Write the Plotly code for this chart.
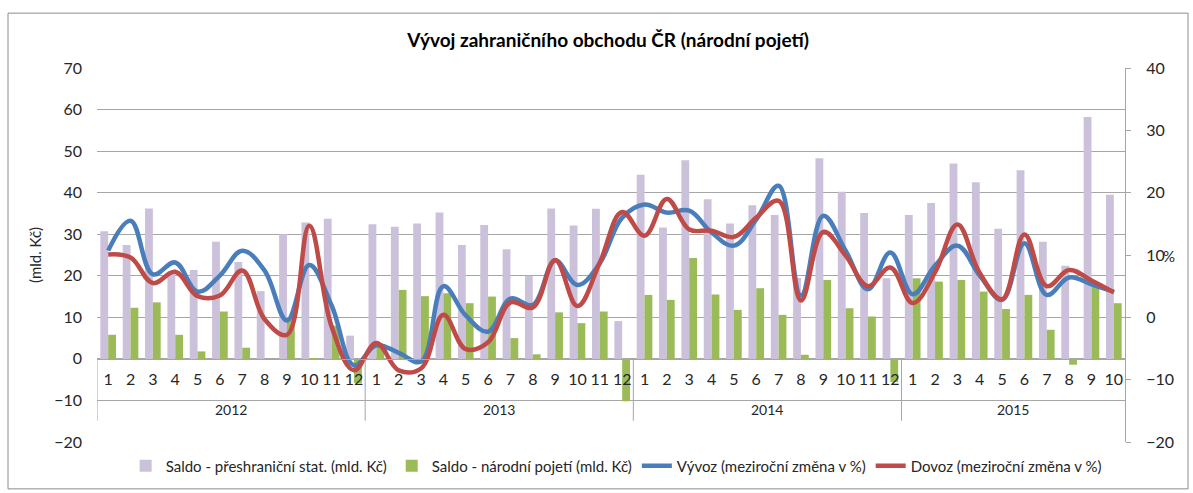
import plotly.graph_objects as go

years = ["2012", "2013", "2014", "2015"]
months_per_year = [12, 12, 12, 10]

saldo_preshranicni = [
    30.7, 27.4, 36.2, 21.0, 21.4, 28.2, 23.3, 16.3, 30.0, 32.8, 33.7, 5.6,
    32.4, 31.8, 32.6, 35.2, 27.4, 32.2, 26.4, 20.0, 36.2, 32.1, 36.1, 9.1,
    44.3, 31.6, 47.8, 38.4, 32.6, 37.0, 34.6, 19.5, 48.3, 40.2, 35.1, 19.4,
    34.6, 37.5, 47.0, 42.5, 31.3, 45.4, 28.2, 22.4, 58.2, 39.5,
]
saldo_narodni = [
    5.8, 12.3, 13.6, 5.8, 1.8, 11.4, 2.7, 0.0, 9.8, -0.2, 8.0, -5.8,
    3.5, 16.6, 15.1, 15.8, 13.4, 15.0, 5.0, 1.1, 11.2, 8.6, 11.4, -10.2,
    15.4, 14.2, 24.3, 15.5, 11.8, 17.0, 10.6, 1.0, 19.0, 12.2, 10.2, -5.6,
    19.4, 18.6, 19.0, 16.2, 12.0, 15.4, 7.0, -1.4, 17.4, 13.4,
]
vyvoz = [
    10.7, 15.5, 6.9, 8.8, 4.1, 6.7, 10.7, 7.5, -0.5, 8.4, 1.9, -7.7,
    -4.5, -5.7, -7.1, 5.0, 0.3, -2.3, 3.0, 2.0, 9.1, 5.2, 8.7, 16.0,
    18.1, 16.8, 17.1, 13.6, 11.5, 15.7, 21.1, 3.5, 16.3, 10.7, 4.5, 10.4,
    3.7, 8.3, 11.5, 6.7, 2.8, 11.9, 3.6, 6.4, 5.3, 4.1,
]
dovoz = [
    10.1, 9.6, 5.5, 7.3, 3.4, 3.5, 7.5, -0.3, -2.8, 14.7, -1.5, -8.5,
    -4.1, -8.5, -8.2, 0.4, -5.1, -4.0, 2.4, 1.6, 9.2, 1.8, 8.8, 16.9,
    13.1, 19.0, 14.1, 13.9, 12.9, 16.0, 18.7, 2.7, 13.7, 9.9, 5.0, 8.0,
    2.3, 7.2, 14.9, 7.1, 2.9, 13.3, 5.0, 7.6, 5.9, 4.0,
]

categories = []
month_labels = []
for y, n in zip(years, months_per_year):
    for m in range(1, n + 1):
        categories.append(f"{y}-{m:02d}")
        month_labels.append(str(m))

FONT = "Lato"
TXT = "#262626"
GRID = "#a6a6a6"

fig = go.Figure()
fig.add_trace(go.Bar(x=categories, y=saldo_preshranicni, name="Saldo - přeshraniční stat. (mld. Kč)",
                     marker=dict(color="#ccc1da", line=dict(width=0)), yaxis="y"))
fig.add_trace(go.Bar(x=categories, y=saldo_narodni, name="Saldo - národní pojetí (mld. Kč)",
                     marker=dict(color="#9bbb59", line=dict(width=0)), yaxis="y"))
fig.add_trace(go.Scatter(x=categories, y=vyvoz, name="Vývoz (meziroční změna v %)", mode="lines",
                         line=dict(color="#4a7ebb", width=4.5, shape="spline", smoothing=1.1), yaxis="y2"))
fig.add_trace(go.Scatter(x=categories, y=dovoz, name="Dovoz (meziroční změna v %)", mode="lines",
                         line=dict(color="#be4b48", width=4.5, shape="spline", smoothing=1.1), yaxis="y2"))

shapes = []
start = 0
bounds = [-0.5]
for n in months_per_year:
    start += n
    bounds.append(start - 0.5)
for b in bounds[:-1]:
    shapes.append(dict(type="line", xref="x", yref="y", x0=b, x1=b, y0=0, y1=-14.9,
                       line=dict(color=GRID, width=1), layer="above"))
shapes.append(dict(type="rect", xref="paper", yref="paper",
                   x0=(8 - 97) / 1028, x1=(1188 - 97) / 1028,
                   y0=(443 - 490) / 375, y1=(443 - 13) / 375,
                   line=dict(color="#8c8c8c", width=1), fillcolor="rgba(0,0,0,0)"))

annotations = []
start = 0
for y, n in zip(years, months_per_year):
    annotations.append(dict(x=start + (n - 1) / 2, y=-12.1, xref="x", yref="y", text=y,
                            showarrow=False, font=dict(family=FONT, size=14, color=TXT)))
    start += n
annotations.append(dict(x=(1177 - 97) / 1028, y=(443 - 257) / 375, xref="paper", yref="paper",
                        text="%", showarrow=False, font=dict(family=FONT, size=15, color=TXT)))

fig.update_layout(
    width=1193, height=493,
    margin=dict(l=97, r=68, t=68, b=50),
    paper_bgcolor="white", plot_bgcolor="white",
    barmode="group", bargap=0.30, bargroupgap=0.0,
    font=dict(family=FONT, color=TXT),
    title=dict(text="<b>Vývoj zahraničního obchodu ČR (národní pojetí)</b>",
               x=608 / 1193, xanchor="center", y=1 - 40 / 493, yanchor="middle",
               font=dict(family=FONT, size=19, color="#000000")),
    xaxis=dict(type="category", tickmode="array", tickvals=categories, ticktext=month_labels,
               range=[-0.5, len(categories) - 0.5], anchor="free", position=20 / 90,
               showline=True, linecolor=GRID, linewidth=1, showgrid=False, ticks="",
               tickfont=dict(family=FONT, size=16, color=TXT), ticklabelstandoff=6),
    yaxis=dict(range=[-20, 70], dtick=10, showgrid=True, gridcolor=GRID, gridwidth=1,
               zeroline=False, showline=False, ticks="", ticklabelstandoff=14,
               tickfont=dict(family=FONT, size=16, color=TXT),
               title=dict(text="(mld. Kč)", font=dict(family=FONT, size=15, color=TXT), standoff=8)),
    yaxis2=dict(range=[-20, 40], dtick=10, overlaying="y", side="right", showgrid=False,
                zeroline=False, showline=True, linecolor=GRID, linewidth=1,
                ticks="outside", ticklen=5, tickcolor=GRID, ticklabelstandoff=12,
                tickfont=dict(family=FONT, size=16, color=TXT)),
    legend=dict(orientation="h", x=0.505, xanchor="center", y=(443 - 466) / 375, yanchor="middle",
                font=dict(family=FONT, size=15, color=TXT), bgcolor="rgba(0,0,0,0)",
                itemwidth=30, tracegroupgap=0),
    shapes=shapes, annotations=annotations,
)

fig.write_html("out.html", config={"displayModeBar": False},
               post_script="document.body.style.margin='0';")
